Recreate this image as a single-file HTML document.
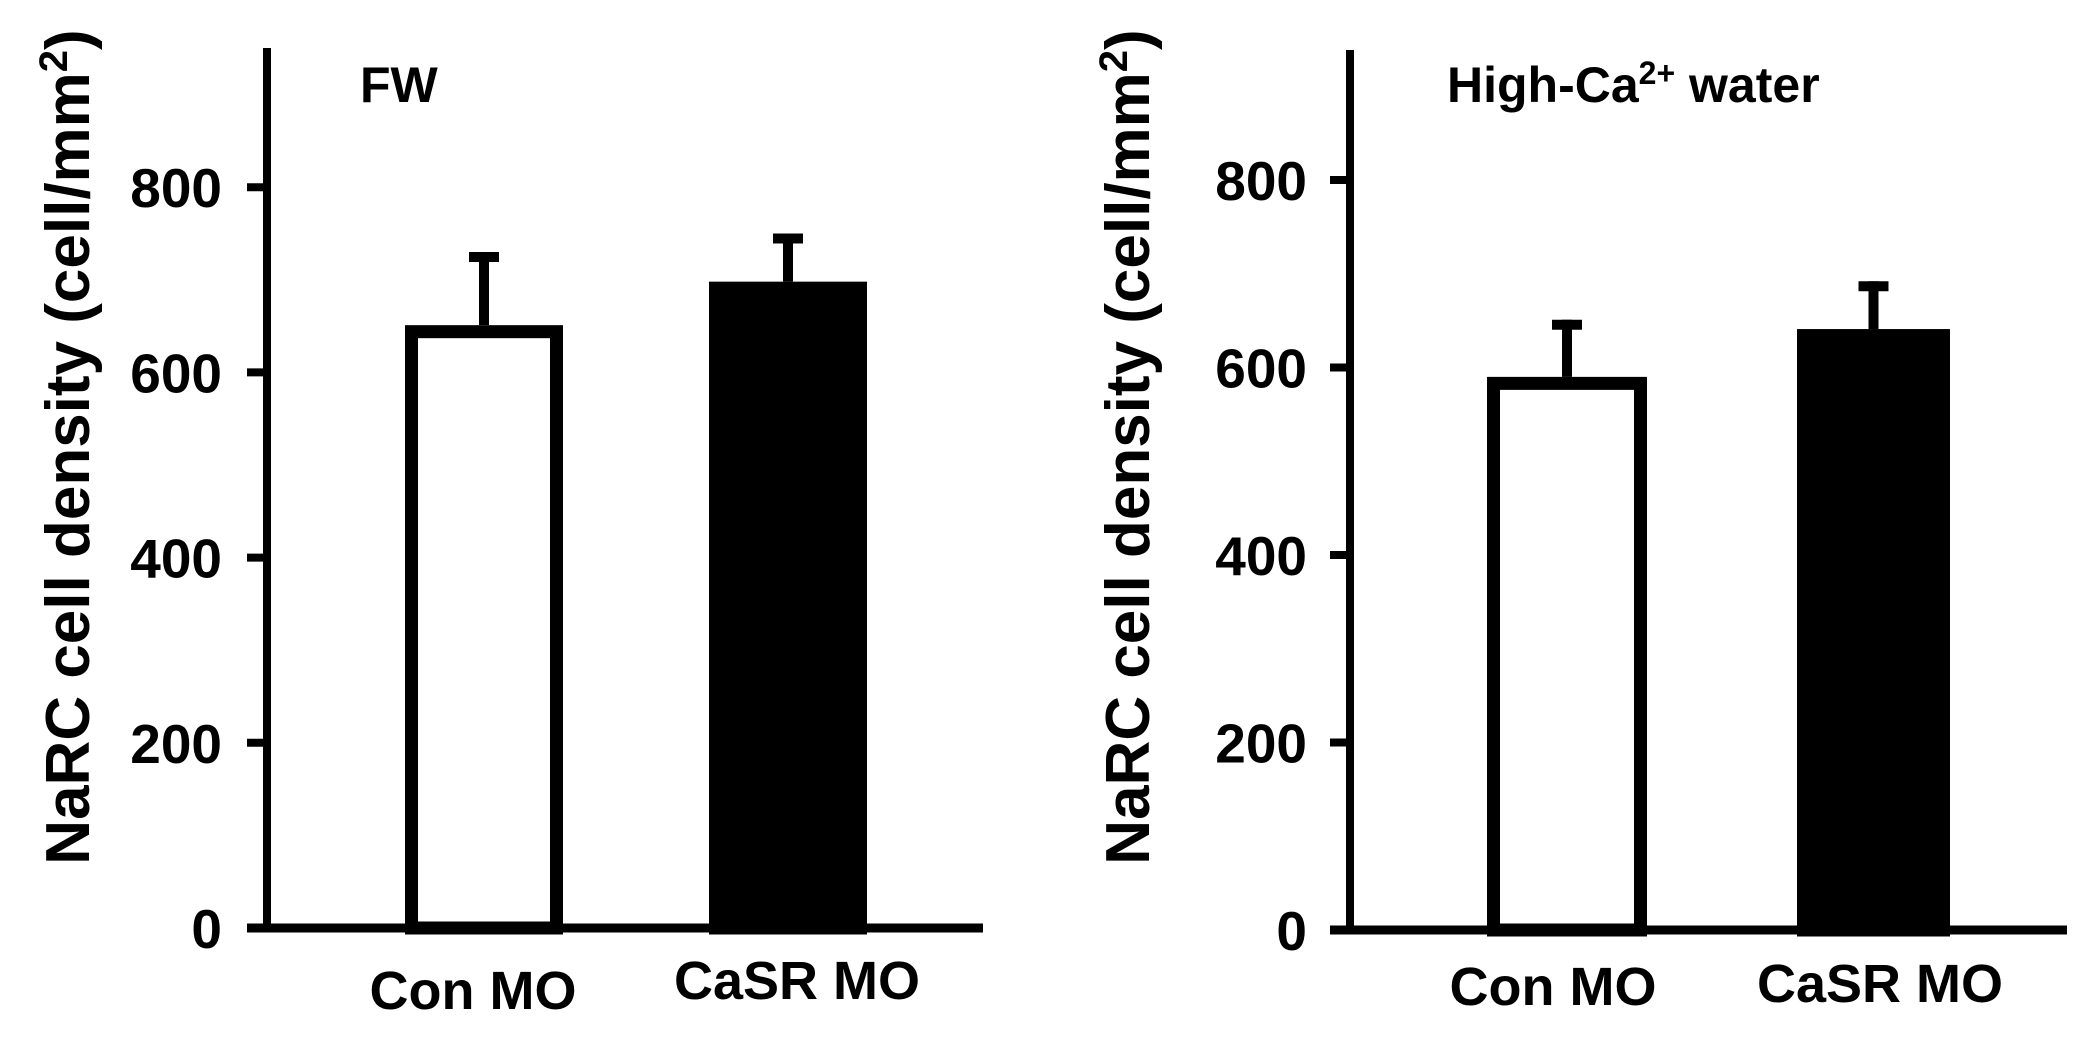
<!DOCTYPE html>
<html><head><meta charset="utf-8"><style>
html,body{margin:0;padding:0;background:#fff;}
svg{display:block;font-family:"Liberation Sans",sans-serif;font-weight:bold;}
</style></head><body>
<svg id="chart" width="2081" height="1057" viewBox="0 0 2081 1057" xmlns="http://www.w3.org/2000/svg"></svg>
<script>
const categories = ["Con MO", "CaSR MO"];
const fwMeans = [651, 698];
const fwErrors = [79, 52];
const hcMeans = [590, 641];
const hcErrors = [61, 51];
const tickValues = [0, 200, 400, 600, 800];
const panelTitles = ["FW", "High-Ca"];

const NS = "http://www.w3.org/2000/svg";
const svg = document.getElementById("chart");
function mk(tag, attrs, parent) {
  const e = document.createElementNS(NS, tag);
  for (const k in attrs) e.setAttribute(k, attrs[k]);
  (parent || svg).appendChild(e);
  return e;
}

const panels = [
  {id:"fw", means:fwMeans, errs:fwErrors, axisX:267, top:48, base:928, scale:0.926, xEnd:983,
   barX:[405,709], barW:[158,158], capW:30, labelRight:222, titleX:67, titleY:447,
   xLab:[{x:473,y:1009},{x:797,y:999}], head:{x:360,y:102}},
  {id:"hc", means:hcMeans, errs:hcErrors, axisX:1350, top:50, base:930, scale:0.9375, xEnd:2067,
   barX:[1487,1797], barW:[160,153], capW:30, labelRight:1307, titleX:1127, titleY:447,
   xLab:[{x:1553,y:1005},{x:1880,y:1002}], head:{x:1447,y:102}}
];

panels.forEach((p, pi) => {
  const g = mk("g", {});
  
  
  const y = v => p.base - v * p.scale;

  p.means.forEach((m, i) => {
    const x0 = p.barX[i], w = p.barW[i], cx = x0 + w / 2;
    const eTop = y(m + p.errs[i]);
    const eb = mk("line", {x1:cx, x2:cx, y1:y(m), y2:eTop, stroke:"#000", "stroke-width":10}, g);
    
    
    const cap = mk("line", {x1:cx - p.capW/2, x2:cx + p.capW/2, y1:eTop + 5, y2:eTop + 5, stroke:"#000", "stroke-width":10}, g);
    
    
    const filled = i === 1;
    const sw = 13;
    const r = mk("rect", {x:x0 + sw/2, y:y(m) + sw/2, width:w - sw, height:p.base - y(m) - sw/2,
      fill: filled ? "#000" : "#fff", stroke:"#000", "stroke-width":sw}, g);
    
    
    const t = mk("text", {x:p.xLab[i].x, y:p.xLab[i].y, "text-anchor":"middle", "font-size":54}, g);
    t.textContent = categories[i];
    
    
  });

  const ya = mk("line", {x1:p.axisX, x2:p.axisX, y1:p.top, y2:p.base + 4, stroke:"#000", "stroke-width":8}, g);
  
  
  const xa = mk("line", {x1:p.axisX - 20, x2:p.xEnd, y1:p.base, y2:p.base, stroke:"#000", "stroke-width":9}, g);
  
  

  tickValues.forEach(v => {
    const tk = mk("line", {x1:p.axisX - 20, x2:p.axisX, y1:y(v), y2:y(v), stroke:"#000", "stroke-width":8}, g);
    
    
    const tl = mk("text", {x:p.labelRight, y:y(v) + 20, "text-anchor":"end", "font-size":55}, g);
    tl.textContent = v;
    
    
  });

  const yt = mk("text", {x:p.titleX, y:p.titleY, "text-anchor":"middle", "font-size":62,
    transform:"rotate(-90 " + p.titleX + " " + p.titleY + ")", dy:"22"}, g);
  yt.innerHTML = 'NaRC cell density (cell/mm<tspan dy="-22" font-size="40">2</tspan><tspan dy="22">)</tspan>';
  
  

  const h = mk("text", {x:p.head.x, y:p.head.y, "font-size":50}, g);
  if (pi === 0) h.textContent = panelTitles[0];
  else h.innerHTML = panelTitles[1] + '<tspan dy="-18" font-size="32">2+</tspan><tspan dy="18"> water</tspan>';
  
  
});
</script>
</body></html>
